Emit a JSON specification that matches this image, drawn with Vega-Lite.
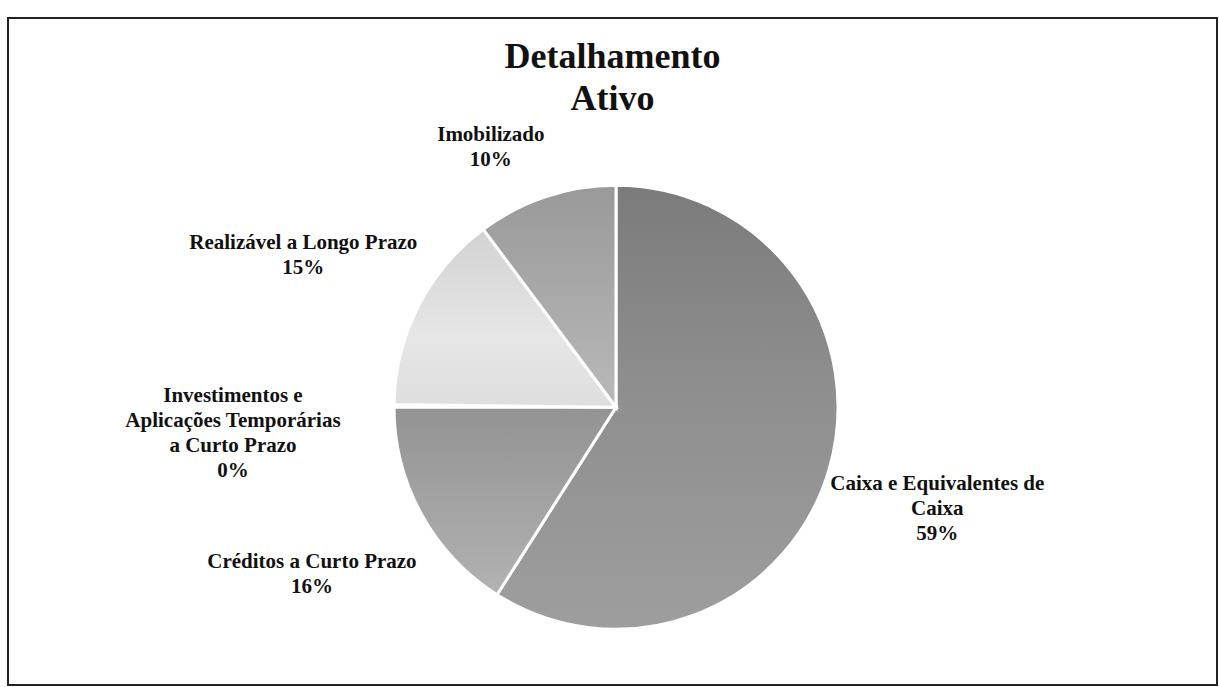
{
  "$schema": "https://vega.github.io/schema/vega-lite/v6.json",
  "width": 1219,
  "height": 687,
  "autosize": {"type": "fit", "contains": "padding"},
  "padding": {"left": 8, "right": 2, "top": 15, "bottom": 2},
  "background": "white",
  "config": {
    "view": {"stroke": "#222222", "strokeWidth": 2},
    "text": {"lineBreak": "\n"}
  },
  "title": {
    "text": ["Detalhamento", "Ativo"],
    "font": "Liberation Serif",
    "fontSize": 36,
    "fontWeight": "bold",
    "color": "#111111",
    "lineHeight": 42,
    "anchor": "middle",
    "frame": "group",
    "offset": -114
  },
  "data": {
    "values": [
      {"categoria": "Caixa e Equivalentes de Caixa", "rotulo": "Caixa e Equivalentes de\nCaixa\n59%", "valor": 59.0, "ordem": 1},
      {"categoria": "Créditos a Curto Prazo", "rotulo": "Créditos a Curto Prazo\n16%", "valor": 16.0, "ordem": 2},
      {"categoria": "Investimentos e Aplicações Temporárias a Curto Prazo", "rotulo": "Investimentos e\nAplicações Temporárias\na Curto Prazo\n0%", "valor": 0.2, "ordem": 3},
      {"categoria": "Realizável a Longo Prazo", "rotulo": "Realizável a Longo Prazo\n15%", "valor": 14.6, "ordem": 4},
      {"categoria": "Imobilizado", "rotulo": "Imobilizado\n10%", "valor": 10.2, "ordem": 5}
    ]
  },
  "encoding": {
    "theta": {"field": "valor", "type": "quantitative", "stack": true},
    "order": {"field": "ordem", "type": "quantitative"},
    "x": {"datum": 0, "type": "quantitative", "scale": {"domain": [-608, 601]}, "axis": null},
    "y": {"datum": 0, "type": "quantitative", "scale": {"domain": [-279, 391]}, "axis": null}
  },
  "layer": [
    {
      "mark": {"type": "arc", "outerRadius": 222, "stroke": "white", "strokeWidth": 3, "color": "#8a8a8a"},
      "encoding": {
        "opacity": {"condition": {"test": "datum.ordem === 3", "value": 1}, "value": 0}
      }
    },
    {
      "mark": {"type": "arc", "outerRadius": 222, "stroke": "white", "strokeWidth": 3,
        "color": {"gradient": "linear", "x1": 0, "y1": 0, "x2": 0, "y2": 1, "stops": [{"offset": 0, "color": "#7b7b7b"}, {"offset": 0.45, "color": "#8e8e8e"}, {"offset": 1, "color": "#9e9e9e"}]}},
      "encoding": {
        "opacity": {"condition": {"test": "datum.ordem === 1", "value": 1}, "value": 0}
      }
    },
    {
      "mark": {"type": "arc", "outerRadius": 222, "stroke": "white", "strokeWidth": 3,
        "color": {"gradient": "linear", "x1": 0, "y1": 0, "x2": 0, "y2": 1, "stops": [{"offset": 0, "color": "#939393"}, {"offset": 1, "color": "#b2b2b2"}]}},
      "encoding": {
        "opacity": {"condition": {"test": "datum.ordem === 2", "value": 1}, "value": 0}
      }
    },
    {
      "mark": {"type": "arc", "outerRadius": 222, "stroke": "white", "strokeWidth": 3,
        "color": {"gradient": "linear", "x1": 0, "y1": 0, "x2": 0, "y2": 1, "stops": [{"offset": 0, "color": "#d2d2d2"}, {"offset": 0.6, "color": "#e6e6e6"}, {"offset": 1, "color": "#dedede"}]}},
      "encoding": {
        "opacity": {"condition": {"test": "datum.ordem === 4", "value": 1}, "value": 0}
      }
    },
    {
      "mark": {"type": "arc", "outerRadius": 222, "stroke": "white", "strokeWidth": 3,
        "color": {"gradient": "linear", "x1": 0, "y1": 0, "x2": 0, "y2": 1, "stops": [{"offset": 0, "color": "#999999"}, {"offset": 1, "color": "#b9b9b9"}]}},
      "encoding": {
        "opacity": {"condition": {"test": "datum.ordem === 5", "value": 1}, "value": 0}
      }
    },
    {
      "mark": {"type": "text", "radius": 337, "thetaOffset": 0.024, "dy": -25, "font": "Liberation Serif", "fontSize": 21, "fontWeight": "bold", "lineHeight": 25, "color": "#111111", "align": "center", "baseline": "middle"},
      "encoding": {
        "text": {"field": "rotulo"},
        "opacity": {"condition": {"test": "datum.ordem === 1", "value": 1}, "value": 0}
      }
    },
    {
      "mark": {"type": "text", "radius": 347, "dy": -12, "font": "Liberation Serif", "fontSize": 21, "fontWeight": "bold", "lineHeight": 25, "color": "#111111", "align": "center", "baseline": "middle"},
      "encoding": {
        "text": {"field": "rotulo"},
        "opacity": {"condition": {"test": "datum.ordem === 2", "value": 1}, "value": 0}
      }
    },
    {
      "mark": {"type": "text", "radius": 384, "thetaOffset": -0.077, "dy": -38, "font": "Liberation Serif", "fontSize": 21, "fontWeight": "bold", "lineHeight": 25, "color": "#111111", "align": "center", "baseline": "middle"},
      "encoding": {
        "text": {"field": "rotulo"},
        "opacity": {"condition": {"test": "datum.ordem === 3", "value": 1}, "value": 0}
      }
    },
    {
      "mark": {"type": "text", "radius": 348, "thetaOffset": -0.017, "dy": -12, "font": "Liberation Serif", "fontSize": 21, "fontWeight": "bold", "lineHeight": 25, "color": "#111111", "align": "center", "baseline": "middle"},
      "encoding": {
        "text": {"field": "rotulo"},
        "opacity": {"condition": {"test": "datum.ordem === 4", "value": 1}, "value": 0}
      }
    },
    {
      "mark": {"type": "text", "radius": 288, "thetaOffset": -0.129, "dy": -13, "font": "Liberation Serif", "fontSize": 21, "fontWeight": "bold", "lineHeight": 25, "color": "#111111", "align": "center", "baseline": "middle"},
      "encoding": {
        "text": {"field": "rotulo"},
        "opacity": {"condition": {"test": "datum.ordem === 5", "value": 1}, "value": 0}
      }
    }
  ]
}
